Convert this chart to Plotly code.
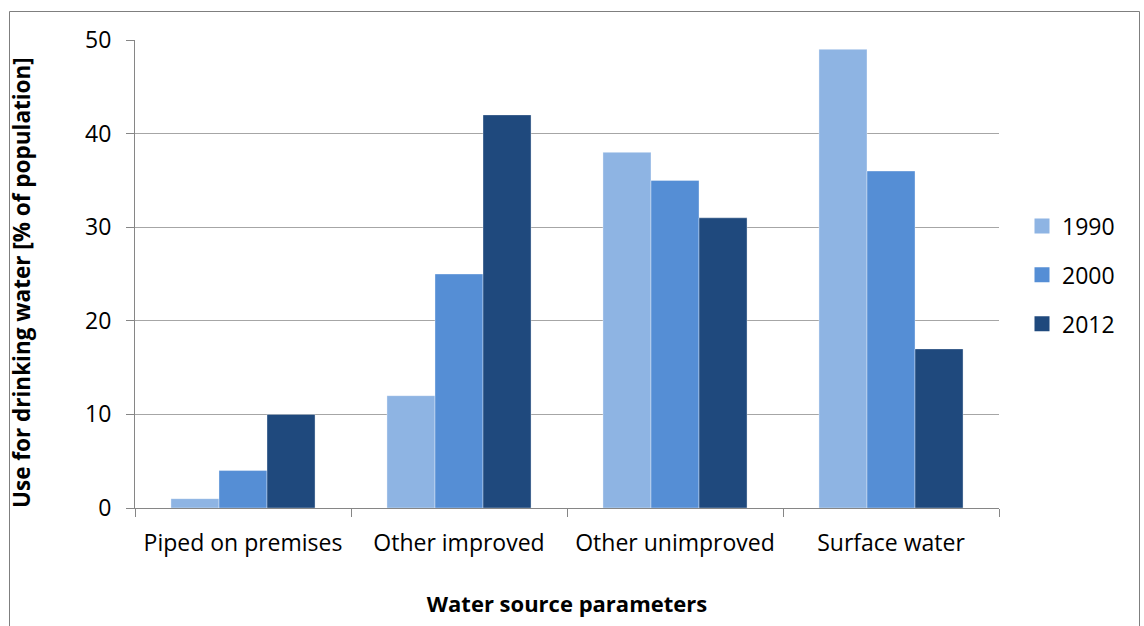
import plotly.graph_objects as go

categories = ["Piped on premises", "Other improved", "Other unimproved", "Surface water"]
years = ["1990", "2000", "2012"]
values_1990 = [1, 12, 38, 49]
values_2000 = [4, 25, 35, 36]
values_2012 = [10, 42, 31, 17]
y_ticks = [0, 10, 20, 30, 40, 50]

colors = ["#8EB4E3", "#558ED5", "#1F497D"]
font_family = "'Open Sans', sans-serif"

W, H = 1144, 626
ML, MR, MT, MB = 135, 145, 40, 118
PW, PH = W - ML - MR, H - MT - MB

fig = go.Figure()
for name, vals, col in zip(years, [values_1990, values_2000, values_2012], colors):
    fig.add_trace(go.Bar(
        x=categories, y=vals, name=name, showlegend=False,
        marker=dict(color=col, line=dict(color="rgba(255,255,255,0.35)", width=1)),
    ))
    # square legend key for each year
    fig.add_trace(go.Scatter(
        x=[None], y=[None], mode="markers", name=name, legendgroup=name,
        marker=dict(symbol="square", size=15, color=col),
    ))

# outer chart frame, expressed in paper coordinates
def px_x(p):
    return (p - ML) / PW

def px_y(p):
    return 1 - (p - MT) / PH

fig.add_shape(type="rect", xref="paper", yref="paper",
              x0=px_x(9.5), x1=px_x(1139.5), y0=px_y(640), y1=px_y(11.5),
              line=dict(color="#7F7F7F", width=1), fillcolor="rgba(0,0,0,0)", layer="below")

# vertical axis title
fig.add_annotation(text="<b>Use for drinking water [% of population]</b>",
                   xref="paper", yref="paper", x=px_x(21), y=px_y(283),
                   xanchor="center", yanchor="middle", textangle=-90,
                   showarrow=False, font=dict(size=22.5))

fig.update_layout(
    width=W, height=H,
    margin=dict(l=ML, r=MR, t=MT, b=MB),
    paper_bgcolor="white", plot_bgcolor="white",
    barmode="group", bargap=0.333, bargroupgap=0,
    font=dict(family=font_family, size=23, color="black"),
    showlegend=True,
    legend=dict(x=px_x(1022), y=px_y(275), xanchor="left", yanchor="middle",
                font=dict(size=23), tracegroupgap=16, itemwidth=30),
    xaxis=dict(
        type="category", showline=True, linecolor="#868686", linewidth=1,
        ticks="outside", tickson="boundaries", ticklen=8, tickcolor="#868686",
        showgrid=False, ticklabelstandoff=14,
        title=dict(text="<b>Water source parameters</b>", font=dict(size=22), standoff=40),
    ),
    yaxis=dict(
        range=[0, 50], tickvals=y_ticks, showline=True, linecolor="#868686", linewidth=1,
        ticks="outside", ticklen=8, tickcolor="#868686", ticklabelstandoff=10,
        showgrid=True, gridcolor="#A6A6A6", gridwidth=1, zeroline=False,
    ),
)

fig.write_html("out.html")
